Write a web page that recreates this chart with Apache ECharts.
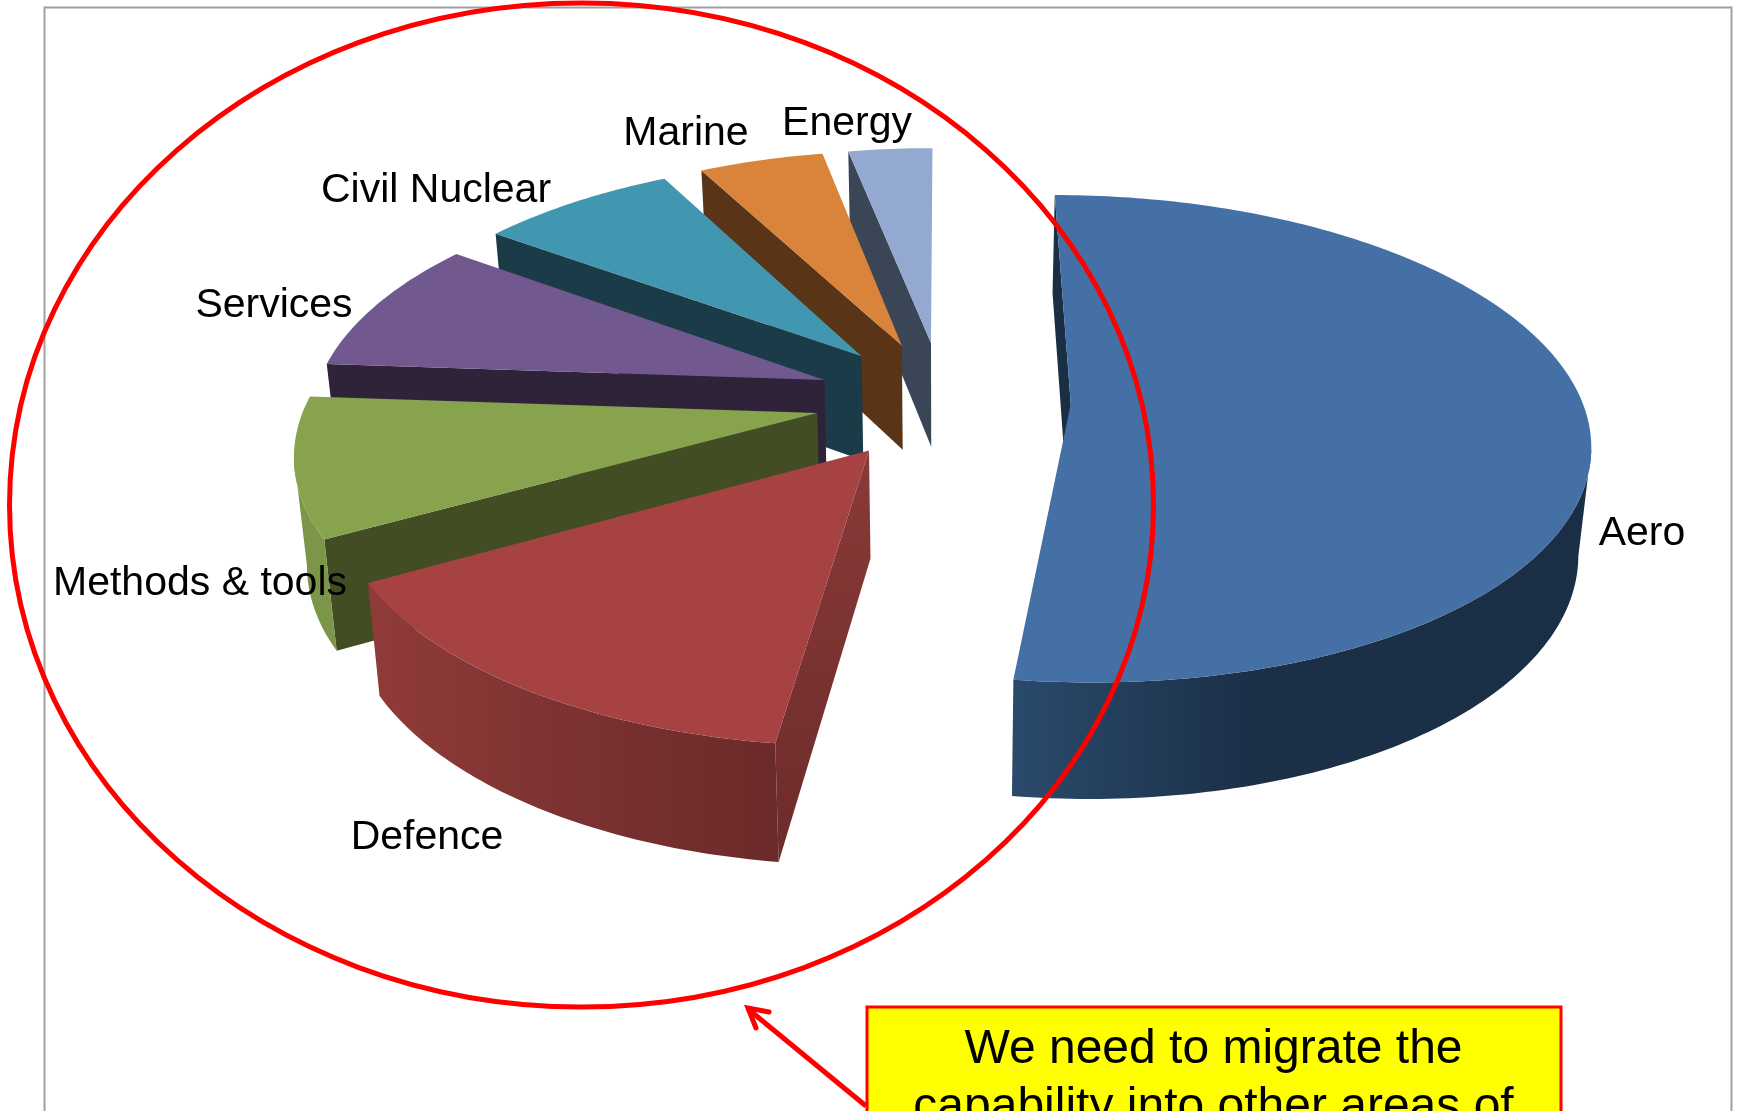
<!DOCTYPE html>
<html>
<head>
<meta charset="utf-8">
<style>html,body{margin:0;padding:0;background:#fff;overflow:hidden}#c{width:1740px;height:1111px}</style>
<script src="https://cdn.jsdelivr.net/npm/echarts@6/dist/echarts.min.js"></script>
</head>
<body>
<div id="c"></div>
<script>
// ---- data (share of activity, clockwise from 12 o'clock)
const categories = ['Aero', 'Defence', 'Methods & tools', 'Services', 'Civil Nuclear', 'Marine', 'Energy'];
const shares = [52.1, 14.8, 9.2, 8.9, 7.3, 4.6, 3.1];
const calloutLines = ['We need to migrate the', 'capability into other areas of'];

// ---- styles and layout
const topColors  = ['#4470A5', '#A64342', '#88A34E', '#71588F', '#4197B0', '#DA843B', '#93A9CF'];
const faceColors = ['#1A2E46', '#8A3A38', '#434D23', '#2E2339', '#1A3B47', '#593416', '#3A4556'];
const wallStops = [
  [['#2A4A6C', 0], ['#1B2F47', 0.42], ['#1A2E45', 1]],
  [['#903B39', 0], ['#7C3231', 0.5], ['#6A2A29', 1]],
  [['#7B9648', 0], ['#7B9648', 1]],
  [['#5F4A78', 0], ['#5F4A78', 1]],
  [['#37798E', 0], ['#37798E', 1]],
  [['#B86F32', 0], ['#B86F32', 1]],
  [['#7C8FAF', 0], ['#7C8FAF', 1]]
];
const labelAt = [[1642, 533.5], [427, 837.5], [200, 583.5], [274, 305.5], [436, 191], [686, 133.5], [847, 123.5]];
const FONT = '"Liberation Sans", Arial, sans-serif';
// projection of the tilted pie
const CX = 943, CY = 400, RX = 511, RY = 237.6, PERSP = 0.1427, EXPLODE = 0.25, DEPTH = 106, BASE_SHRINK = 0.98;

function project(X, Z) {
  const s = 1 / (1 - PERSP * Z);
  return { x: CX + RX * X * s, y: CY + RY * Z * s, s: s };
}
function below(p) {
  return [CX + (p.x - CX) * BASE_SHRINK, p.y + DEPTH * Math.pow(p.s, 0.6)];
}
const total = shares.reduce((a, b) => a + b, 0);

function renderSlice(params, api) {
  const i = params.dataIndex;
  const value = api.value(0);
  let before = 0;
  for (let k = 0; k < i; k++) before += shares[k];
  const t0 = before / total * Math.PI * 2;
  const t1 = t0 + value / total * Math.PI * 2;
  const mid = (t0 + t1) / 2;
  const ex = EXPLODE * Math.sin(mid), ez = -EXPLODE * Math.cos(mid);
  const rim = t => project(ex + Math.sin(t), ez - Math.cos(t));
  const apex = project(ex, ez);
  const n = Math.max(12, Math.round((t1 - t0) * 60));
  const pts = [];
  for (let k = 0; k <= n; k++) pts.push(rim(t0 + (t1 - t0) * k / n));

  const order = i === 0 ? 20 : (categories.length - i) * 2;
  const children = [];
  // cut face at the starting edge
  const r0 = pts[0];
  const faceFill = i === 1
    ? { type: 'linear', x: 0, y: 0, x2: 0, y2: 1, colorStops: [{ offset: 0, color: '#8A3A38' }, { offset: 1, color: '#6C2B2A' }] }
    : faceColors[i];
  children.push({
    type: 'polygon', z2: order,
    shape: { points: [[apex.x, apex.y], [r0.x, r0.y], below(r0), below(apex)] },
    style: { fill: faceFill, stroke: null }
  });
  // outer wall: only the front-facing part of the rim
  const run = [];
  for (let k = 0; k < n; k++) {
    if (pts[k + 1].x < pts[k].x) {
      if (!run.length) run.push(pts[k]);
      run.push(pts[k + 1]);
    }
  }
  if (run.length > 1) {
    const poly = run.map(p => [p.x, p.y]).concat(run.slice().reverse().map(below));
    children.push({
      type: 'polygon', z2: order,
      shape: { points: poly },
      style: {
        fill: {
          type: 'linear', x: 0, y: 0, x2: 1, y2: 0,
          colorStops: wallStops[i].map(s => ({ offset: s[1], color: s[0] }))
        },
        stroke: null
      }
    });
  }
  // top surface
  children.push({
    type: 'polygon', z2: order + 1,
    shape: { points: [[apex.x, apex.y]].concat(pts.map(p => [p.x, p.y])) },
    style: { fill: topColors[i], stroke: null }
  });
  // category label
  children.push({
    type: 'text', z2: 50,
    style: {
      text: categories[i], x: labelAt[i][0], y: labelAt[i][1],
      font: '41px ' + FONT, fill: '#000', align: 'center', verticalAlign: 'middle'
    }
  });
  return { type: 'group', children: children };
}

const chart = echarts.init(document.getElementById('c'), null, { renderer: 'canvas', width: 1740, height: 1111 });
chart.setOption({
  animation: false,
  backgroundColor: '#fff',
  graphic: {
    elements: [
      { type: 'rect', z: 1, shape: { x: 44.5, y: 7.5, width: 1687, height: 1200 },
        style: { fill: null, stroke: '#A0A0A0', lineWidth: 2 } },
      { type: 'ellipse', z: 100, shape: { cx: 581.5, cy: 505, rx: 572, ry: 502 },
        style: { fill: null, stroke: '#FF0000', lineWidth: 5 } },
      { type: 'polyline', z: 100, shape: { points: [[866, 1106], [748, 1009]] },
        style: { fill: null, stroke: '#FF0000', lineWidth: 5 } },
      { type: 'polyline', z: 100, shape: { points: [[769, 1012], [748, 1008], [756, 1028]] },
        style: { fill: null, stroke: '#FF0000', lineWidth: 5, lineCap: 'round', lineJoin: 'miter' } },
      { type: 'rect', z: 101, shape: { x: 867, y: 1007, width: 694, height: 200 },
        style: { fill: '#FFFF00', stroke: '#FF0000', lineWidth: 3 } },
      { type: 'text', z: 102, style: { text: calloutLines[0], x: 1213.5, y: 1050, font: '48px ' + FONT,
        fill: '#000', align: 'center', verticalAlign: 'middle' } },
      { type: 'text', z: 102, style: { text: calloutLines[1], x: 1213.5, y: 1108, font: '48px ' + FONT,
        fill: '#000', align: 'center', verticalAlign: 'middle' } }
    ]
  },
  series: [{
    type: 'custom',
    coordinateSystem: 'none',
    silent: true,
    clip: false,
    renderItem: renderSlice,
    data: shares.map(v => [v])
  }]
});
</script>
</body>
</html>
